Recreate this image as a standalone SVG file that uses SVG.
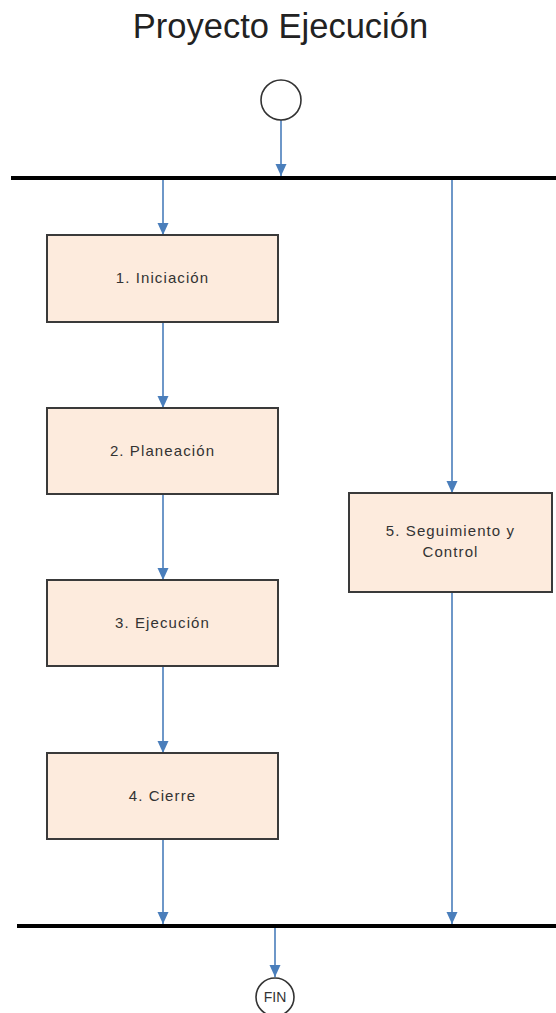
<svg xmlns="http://www.w3.org/2000/svg" width="556" height="1013" viewBox="0 0 556 1013">
<style>
.box{fill:#fdebdd;stroke:#3a3a3a;stroke-width:2}
.lbl{font-family:"Liberation Sans",Arial,sans-serif;font-size:15px;fill:#333;text-anchor:middle;letter-spacing:1.1px}
.conn{stroke:#4a7ebb;stroke-width:1.6;fill:none;marker-end:url(#arr)}
.bar{stroke:#000;stroke-width:4}
.circ{fill:#fff;stroke:#333;stroke-width:1.6}
</style>
<defs>
<marker id="arr" markerUnits="userSpaceOnUse" markerWidth="12" markerHeight="12" viewBox="0 0 12 12" refX="12" refY="6" orient="auto">
<path d="M0,0.5 L12,6 L0,11.5 Z" fill="#4a7ebb"/>
</marker>
</defs>
<rect width="556" height="1013" fill="#fff"/>
<text x="280.5" y="37.5" font-family="'Liberation Sans',Arial,sans-serif" font-size="34.5" fill="#222" text-anchor="middle">Proyecto Ejecución</text>

<g id="bars">
<line class="bar" x1="11" y1="178" x2="556" y2="178"/>
<line class="bar" x1="17" y1="926" x2="556" y2="926"/>
</g>

<g id="connectors">
<line class="conn" x1="281" y1="120" x2="281" y2="176"/>
<line class="conn" x1="163" y1="180" x2="163" y2="235"/>
<line class="conn" x1="452" y1="180" x2="452" y2="493"/>
<line class="conn" x1="163" y1="322" x2="163" y2="408"/>
<line class="conn" x1="163" y1="494" x2="163" y2="580"/>
<line class="conn" x1="163" y1="666" x2="163" y2="753"/>
<line class="conn" x1="163" y1="839" x2="163" y2="924"/>
<line class="conn" x1="452" y1="593" x2="452" y2="924"/>
<line class="conn" x1="275" y1="928" x2="275" y2="977"/>
</g>

<g id="start">
<circle class="circ" cx="281" cy="100" r="20"/>
</g>

<g id="n1">
<rect class="box" x="47" y="235" width="231" height="87"/>
<text class="lbl" x="162.5" y="283">1. Iniciación</text>
</g>
<g id="n2">
<rect class="box" x="47" y="408" width="231" height="86"/>
<text class="lbl" x="162.5" y="456">2. Planeación</text>
</g>
<g id="n3">
<rect class="box" x="47" y="580" width="231" height="86"/>
<text class="lbl" x="162.5" y="628">3. Ejecución</text>
</g>
<g id="n4">
<rect class="box" x="47" y="753" width="231" height="86"/>
<text class="lbl" x="162.5" y="801">4. Cierre</text>
</g>
<g id="n5">
<rect class="box" x="349" y="493" width="203" height="99"/>
<text class="lbl" x="450.5" y="536">5. Seguimiento y</text>
<text class="lbl" x="450.5" y="557">Control</text>
</g>

<g id="fin">
<circle class="circ" cx="275" cy="997" r="19"/>
<text x="275" y="1002" font-family="'Liberation Sans',Arial,sans-serif" font-size="14" fill="#333" text-anchor="middle">FIN</text>
</g>
</svg>
